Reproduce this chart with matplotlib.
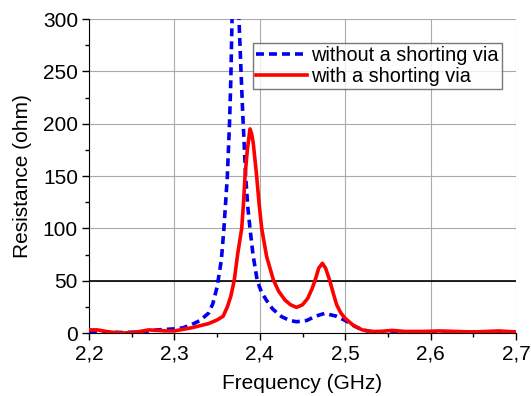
import matplotlib
matplotlib.use("Agg")
import matplotlib.pyplot as plt

plt.rcParams["font.family"] = ["Liberation Sans", "DejaVu Sans"]

# without a shorting via (blue dashed)
f_blue = [2.20, 2.22, 2.24, 2.26, 2.28, 2.30, 2.31, 2.32, 2.33, 2.34, 2.345,
          2.35, 2.355, 2.358, 2.362, 2.3645, 2.366, 2.3675, 2.369, 2.3715,
          2.374, 2.3756, 2.378, 2.380, 2.3834, 2.386, 2.3885, 2.392, 2.397,
          2.402, 2.408, 2.415, 2.4256, 2.435, 2.443, 2.455, 2.465, 2.476,
          2.485, 2.49, 2.50, 2.51, 2.52, 2.53, 2.55, 2.60, 2.65, 2.70]
r_blue = [1, 1, 0.5, 1, 3, 4, 5, 8, 12, 19, 28,
          44, 70, 100, 150, 200, 240, 300, 400, 560,
          400, 300, 250, 210, 150, 120, 100, 75, 50,
          39, 31, 23, 15.6, 12, 10.8, 12, 16, 18.8,
          17, 16, 12, 7, 3, 1.5, 1, 1, 1, 1]

# with a shorting via (red solid)
f_red = [2.20, 2.21, 2.22, 2.23, 2.24, 2.25, 2.26, 2.27, 2.28, 2.29, 2.30,
         2.31, 2.32, 2.33, 2.34, 2.35, 2.357, 2.362, 2.366, 2.370, 2.374,
         2.3788, 2.381, 2.3827, 2.3854, 2.3885, 2.3905, 2.3924, 2.3963, 2.399,
         2.4022, 2.408, 2.4158, 2.422, 2.4295, 2.436, 2.443, 2.45, 2.456,
         2.461, 2.4646, 2.469, 2.4733, 2.477, 2.482, 2.486, 2.49, 2.495,
         2.50, 2.51, 2.52, 2.53, 2.54, 2.555, 2.57, 2.59, 2.61, 2.63, 2.65,
         2.68, 2.70]
r_red = [3, 3, 1.5, 0.5, 0, 0.5, 1.5, 3, 2.5, 2, 2,
         3.5, 5, 7, 9, 12.5, 16, 25, 35, 50, 75,
         100, 125, 150, 175, 195, 190, 181, 150, 125,
         100, 73, 51, 40, 31.5, 27, 24.5, 27, 33,
         42, 50, 62, 66.6, 62, 50, 38, 27, 19,
         14, 7, 3, 1.5, 1.5, 2.5, 1.5, 1.5, 2, 1.5, 1,
         2, 1]

x_ticks = [2.2, 2.3, 2.4, 2.5, 2.6, 2.7]
x_labels = ["2,2", "2,3", "2,4", "2,5", "2,6", "2,7"]
y_ticks = [0, 50, 100, 150, 200, 250, 300]
ref_level = 50

fig = plt.figure(figsize=(5.31, 3.96), dpi=100)
ax = fig.add_axes([0.1676, 0.159, 0.8042, 0.793])

ax.plot(f_blue, r_blue, color="#0000ee", lw=2.6, ls=(0, (2.2, 1.4)),
        label="without a shorting via", zorder=3)
ax.plot(f_red, r_red, color="#ff0000", lw=2.6, label="with a shorting via", zorder=4)
ax.axhline(ref_level, color="black", lw=1.2, zorder=2)

ax.set_xlim(2.2, 2.7)
ax.set_ylim(0, 300)
ax.set_xticks(x_ticks)
ax.set_xticklabels(x_labels)
ax.set_yticks(y_ticks)
ax.set_xticks([2.25, 2.35, 2.45, 2.55, 2.65], minor=True)
ax.set_yticks([25, 75, 125, 175, 225, 275], minor=True)
ax.tick_params(which="major", direction="out", length=5, width=1, labelsize=15, pad=3)
ax.tick_params(which="minor", direction="out", length=3, width=1)
ax.grid(True, which="major", color="#aaaaaa", lw=0.8)
ax.set_axisbelow(True)
for side in ("top", "right"):
    ax.spines[side].set_visible(False)

ax.set_xlabel("Frequency (GHz)", fontsize=15, labelpad=8)
ax.set_ylabel("Resistance (ohm)", fontsize=15, labelpad=8)

leg = ax.legend(loc="upper left", bbox_to_anchor=(0.383, 0.925), fontsize=14.3,
                frameon=True, fancybox=False, edgecolor="#555555",
                borderpad=0.15, handlelength=2.6, handletextpad=0.2,
                labelspacing=0.1, borderaxespad=0)
leg.get_frame().set_linewidth(1.0)

fig.savefig("out.png", dpi=100, facecolor="white")
